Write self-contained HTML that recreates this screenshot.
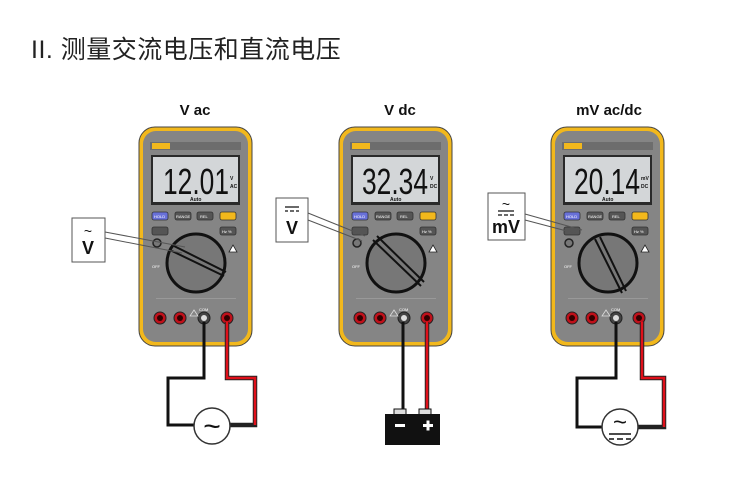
<!DOCTYPE html>
<html><head><meta charset="utf-8"><style>
html,body{margin:0;padding:0;background:#fff;}
svg{display:block;}
text{font-family:"Liberation Sans","Noto Sans CJK SC",sans-serif;}
</style></head><body>
<svg width="750" height="486" viewBox="0 0 750 486" xmlns="http://www.w3.org/2000/svg">
<text x="31" y="58" font-size="25" fill="#222" letter-spacing="0.5">II. 测量交流电压和直流电压</text>
<text x="195" y="115" font-size="15" font-weight="bold" text-anchor="middle" fill="#111">V ac</text>
<text x="400" y="115" font-size="15" font-weight="bold" text-anchor="middle" fill="#111">V dc</text>
<text x="609" y="115" font-size="15" font-weight="bold" text-anchor="middle" fill="#111">mV ac/dc</text>

<defs>
<g id="m">
  <rect x="139" y="127" width="113" height="219" rx="16" fill="#f2b81c" stroke="#444" stroke-width="1"/>
  <rect x="143" y="131" width="105" height="211" rx="13" fill="#858585"/>
  <rect x="150" y="142" width="91" height="8" fill="#6d6d6d"/>
  <rect x="152" y="143" width="18" height="6" fill="#f2b81c"/>
  <rect x="151" y="155" width="89" height="50" fill="#2a2a2a"/>
  <rect x="153" y="157" width="85" height="45" fill="#d3d6d8"/>
  <rect x="152" y="212" width="16" height="8" rx="2" fill="#6870d8" stroke="#333" stroke-width="0.8"/>
  <rect x="175" y="212" width="16" height="8" rx="2" fill="#555" stroke="#333" stroke-width="0.8"/>
  <rect x="197" y="212" width="16" height="8" rx="2" fill="#555" stroke="#333" stroke-width="0.8"/>
  <rect x="220" y="212" width="16" height="8" rx="2" fill="#f2b81c" stroke="#333" stroke-width="0.8"/>
  <rect x="152" y="227" width="16" height="8" rx="2" fill="#555" stroke="#333" stroke-width="0.8"/>
  <rect x="220" y="227" width="16" height="8" rx="2" fill="#555" stroke="#333" stroke-width="0.8"/>
  <circle cx="157" cy="243" r="4" fill="#777" stroke="#222" stroke-width="1.5"/>
  <circle cx="196" cy="263" r="29" fill="#777" stroke="#111" stroke-width="3"/>
  <path d="M229 252 l4 -7 l4 7z" fill="#fff" stroke="#222" stroke-width="0.8"/>
  <rect x="156" y="298" width="80" height="1" fill="#999"/>
  <circle cx="160" cy="318" r="6" fill="#c0101a" stroke="#222" stroke-width="1"/>
  <circle cx="160" cy="318" r="3" fill="#300"/>
  <circle cx="180" cy="318" r="6" fill="#c0101a" stroke="#222" stroke-width="1"/>
  <circle cx="180" cy="318" r="3" fill="#300"/>
  <circle cx="204" cy="318" r="6" fill="#444" stroke="#222" stroke-width="1"/>
  <circle cx="204" cy="318" r="3" fill="#ddd"/>
  <circle cx="227" cy="318" r="6" fill="#c0101a" stroke="#222" stroke-width="1"/>
  <circle cx="227" cy="318" r="3" fill="#300"/>
  <path d="M190 316 l4 -6 l4 6z" fill="none" stroke="#ddd" stroke-width="0.8"/>
</g>
</defs>

<use href="#m"/>
<use href="#m" transform="translate(200,0)"/>
<use href="#m" transform="translate(412,0)"/>

<g stroke="#111" stroke-width="2" fill="none">
  <path d="M170 250 L224 276"/><path d="M174 246 L226 272"/>
  <path d="M373 240 L421 286"/><path d="M377 236 L424 282"/>
  <path d="M595 239 L622 293"/><path d="M600 237 L626 291"/>
</g>
<g font-size="34" fill="#111" transform="scale(1,1.05)">
  <text x="163" y="185" textLength="66" lengthAdjust="spacingAndGlyphs">12.01</text>
  <text x="362" y="185" textLength="66" lengthAdjust="spacingAndGlyphs">32.34</text>
  <text x="574" y="185" textLength="66" lengthAdjust="spacingAndGlyphs">20.14</text>
</g>
<g font-size="5" fill="#111" font-weight="bold">
  <text x="230" y="180">V</text><text x="230" y="188">AC</text>
  <text x="430" y="180">V</text><text x="430" y="188">DC</text>
  <text x="641" y="180">mV</text><text x="641" y="188">DC</text>
  <text x="190" y="201">Auto</text><text x="390" y="201">Auto</text><text x="602" y="201">Auto</text>
</g>
<g font-size="4" fill="#fff">
  <text x="154" y="218">HOLD</text><text x="354" y="218">HOLD</text><text x="566" y="218">HOLD</text>
  <text x="176" y="218">RANGE</text><text x="376" y="218">RANGE</text><text x="588" y="218">RANGE</text>
  <text x="200" y="218">REL</text><text x="400" y="218">REL</text><text x="612" y="218">REL</text>
  <text x="222" y="233">Hz %</text><text x="422" y="233">Hz %</text><text x="634" y="233">Hz %</text>
  <text x="152" y="268">OFF</text><text x="352" y="268">OFF</text><text x="564" y="268">OFF</text>
  <text x="199" y="311">COM</text><text x="399" y="311">COM</text><text x="611" y="311">COM</text>
</g>

<g fill="none" stroke-linejoin="miter">
  <path d="M204 322 V378 H168 V425 H194" stroke="#111" stroke-width="3"/>
  <path d="M227 322 V378 H255 V425 H229" stroke="#222" stroke-width="4.5"/>
  <path d="M227 322 V378 H255 V425" stroke="#e0101a" stroke-width="2.5"/>
  <path d="M403 322 V412" stroke="#111" stroke-width="3"/>
  <path d="M427 322 V412" stroke="#222" stroke-width="4.5"/>
  <path d="M427 322 V412" stroke="#e0101a" stroke-width="2.5"/>
  <path d="M616 322 V378 H577 V427 H603" stroke="#111" stroke-width="3"/>
  <path d="M642 322 V378 H664 V427 H637" stroke="#222" stroke-width="4.5"/>
  <path d="M642 322 V378 H664 V427" stroke="#e0101a" stroke-width="2.5"/>
</g>
<circle cx="212" cy="426" r="18" fill="#fff" stroke="#333" stroke-width="1.5"/>
<text x="212" y="436" font-size="30" text-anchor="middle" fill="#111">~</text>
<circle cx="620" cy="427" r="18" fill="#fff" stroke="#333" stroke-width="1.5"/>
<text x="620" y="430" font-size="24" text-anchor="middle" fill="#111">~</text>
<path d="M609 434 h22 M609 439 h5 M617 439 h6 M626 439 h5" stroke="#111" stroke-width="1.6"/>

<rect x="394" y="409" width="12" height="6" fill="#ddd" stroke="#111" stroke-width="1"/>
<rect x="419" y="409" width="12" height="6" fill="#ddd" stroke="#111" stroke-width="1"/>
<rect x="385" y="414" width="55" height="31" fill="#111"/>
<rect x="395" y="424" width="10" height="3" fill="#fff"/>
<rect x="423" y="424" width="10" height="3" fill="#fff"/>
<rect x="426.5" y="420.5" width="3" height="10" fill="#fff"/>

<g stroke="#555" stroke-width="1" fill="#fff">
  <path d="M105 232 L185 247 M105 238 L182 253" fill="none"/>
  <rect x="72" y="218" width="33" height="44"/>
  <path d="M308 213 L365 236 M308 220 L362 241" fill="none"/>
  <rect x="276" y="198" width="32" height="44"/>
  <path d="M525 214 L582 230 M525 220 L578 234" fill="none"/>
  <rect x="488" y="193" width="37" height="47"/>
</g>
<text x="88" y="254" font-size="18" font-weight="bold" text-anchor="middle" fill="#111">V</text>
<text x="88" y="236" font-size="14" text-anchor="middle" fill="#111">~</text>
<text x="292" y="234" font-size="18" font-weight="bold" text-anchor="middle" fill="#111">V</text>
<path d="M285 207 h14 M285 211 h3 M290 211 h4 M296 211 h3" stroke="#111" stroke-width="1.3"/>
<text x="506" y="233" font-size="18" font-weight="bold" text-anchor="middle" fill="#111">mV</text>
<text x="506" y="209" font-size="14" text-anchor="middle" fill="#111">~</text>
<path d="M498 211 h16 M498 215 h4 M504 215 h4 M510 215 h4" stroke="#111" stroke-width="1.3"/>
</svg>
</body></html>
